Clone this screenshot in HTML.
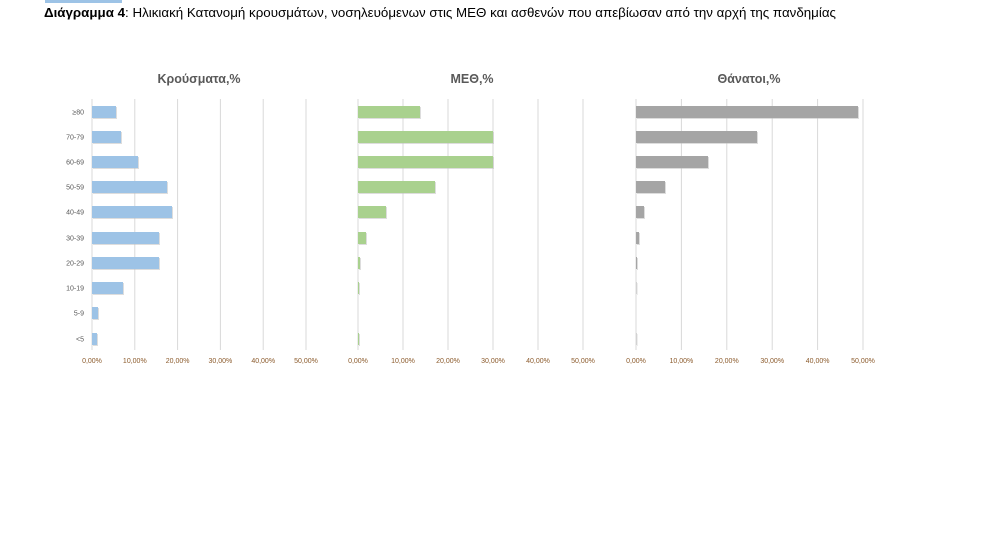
<!DOCTYPE html>
<html><head><meta charset="utf-8"><style>
body{margin:0;background:#fff;width:989px;height:539px;overflow:hidden}
svg{display:block}
</style></head><body>
<svg id="s" width="989" height="539" xmlns="http://www.w3.org/2000/svg" font-family="'Liberation Sans','DejaVu Sans',sans-serif">
<rect x="45" y="0" width="77" height="3" fill="#9dc3e6"/>
<text x="44" y="17" font-size="13" fill="#000" textLength="792" lengthAdjust="spacingAndGlyphs"><tspan font-weight="bold">Διάγραμμα 4</tspan>: Ηλικιακή Κατανομή κρουσμάτων, νοσηλευόμενων στις ΜΕΘ και ασθενών που απεβίωσαν από την αρχή της πανδημίας</text>
</svg>
<script>
var s=document.getElementById('s'),ns='http://www.w3.org/2000/svg';
function el(t,a,txt){var e=document.createElementNS(ns,t);for(var k in a)e.setAttribute(k,a[k]);if(txt!=null)e.textContent=txt;s.appendChild(e);return e;}
var ys=[112,137,162,187,212,238,263,288,313,339];
var labs=['≥80','70-79','60-69','50-59','40-49','30-39','20-29','10-19','5-9','<5'];
var charts=[
 {x0:92,step:42.8,title:'Κρούσματα,%',tx:199,col:'#9dc3e6',ends:[116,121,138,167,172,159,159,123,98,97]},
 {x0:358,step:45,title:'ΜΕΘ,%',tx:472,col:'#a9d18e',ends:[420,493,493,435,386,366,360,359,358,359]},
 {x0:636,step:45.4,title:'Θάνατοι,%',tx:749,col:'#a5a5a5',ends:[858,757,708,665,644,639,637,636.5,636,636.5]}
];
charts.forEach(function(c,ci){
 el('text',{x:c.tx,y:83,'font-size':12.5,'font-weight':'bold',fill:'#595959','text-anchor':'middle'},c.title);
 for(var i=0;i<6;i++){var gx=c.x0+i*c.step;
  el('line',{x1:gx,y1:99,x2:gx,y2:350,stroke:'#d9d9d9','stroke-width':1});
  el('text',{x:gx,y:363,'font-size':7,fill:'#8b5a2b','text-anchor':'middle'},(i*10)+',00%');}
 ys.forEach(function(y,j){var w=c.ends[j]-c.x0;
  if(w>0.3){el('rect',{x:c.x0+1,y:y-5,width:w,height:12,fill:'#bbb',opacity:0.5});
  el('rect',{x:c.x0,y:y-6,width:w,height:12,fill:c.col});}
  if(ci==0)el('text',{x:84,y:y+2.5,'font-size':7,fill:'#595959','text-anchor':'end'},labs[j]);
 });
});
</script>
</body></html>
